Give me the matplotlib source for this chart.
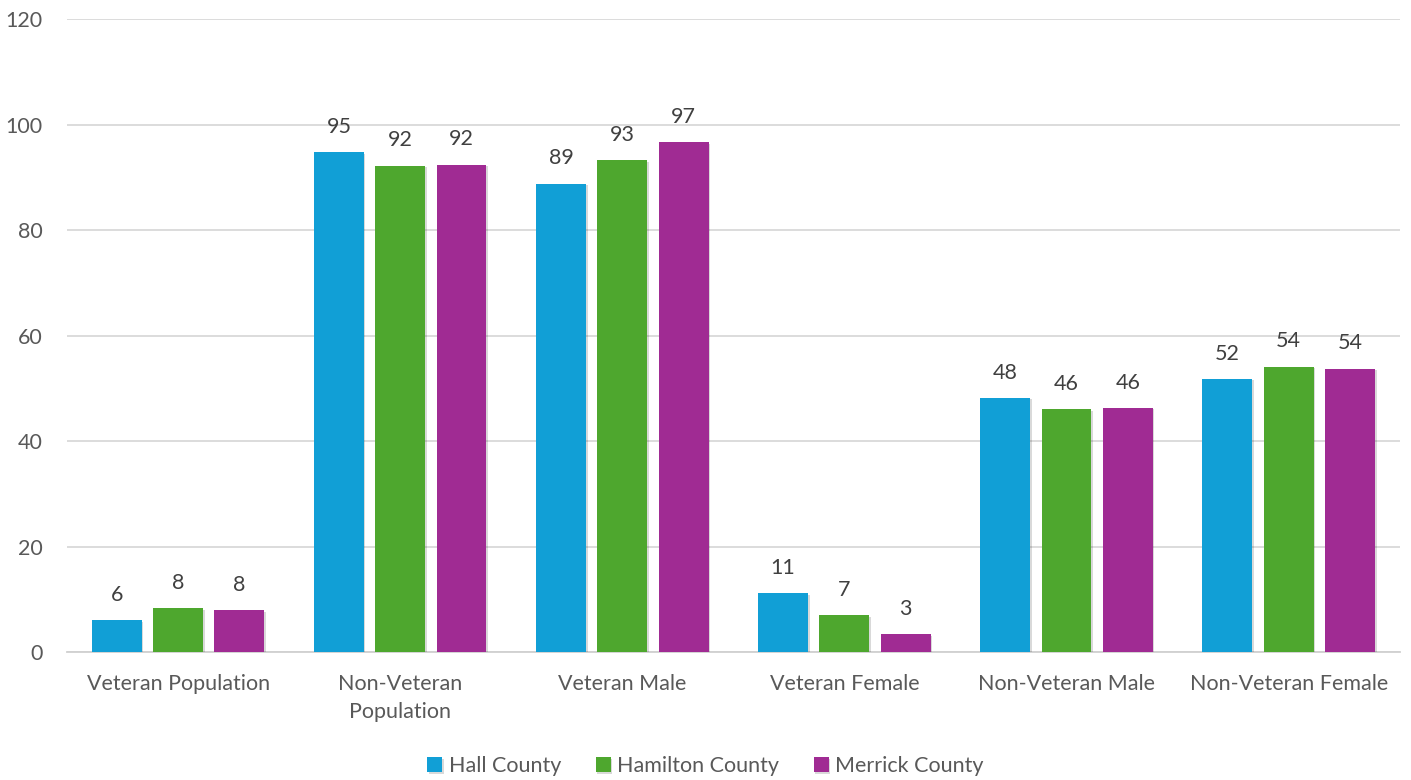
import matplotlib
matplotlib.use("Agg")
import matplotlib.pyplot as plt
import matplotlib.patheffects as pe
import numpy as np

categories = ["Veteran Population", "Non-Veteran\nPopulation", "Veteran Male",
              "Veteran Female", "Non-Veteran Male", "Non-Veteran Female"]
series_names = ["Hall County", "Hamilton County", "Merrick County"]
hall = [6.1, 94.7, 88.8, 11.2, 48.2, 51.8]
hamilton = [8.35, 92.2, 93.2, 7.0, 46.1, 54.1]
merrick = [7.95, 92.4, 96.6, 3.4, 46.3, 53.7]
colors = ["#119FD6", "#4EA72E", "#A02B93"]
yticks = [0, 20, 40, 60, 80, 100, 120]

plt.rcParams['font.family'] = ['Lato', 'DejaVu Sans']
FS = 15.5

fig = plt.figure(figsize=(14.11, 7.8), dpi=100)
ax = fig.add_axes([0.0475, 0.164, 0.9445, 0.8116])

x = np.arange(len(categories))
bw = 0.2245
step = 0.276
shadow = [pe.SimplePatchShadow(offset=(1.2, -1.2), shadow_rgbFace="#000000", alpha=0.15), pe.Normal()]
for i, (name, vals) in enumerate(zip(series_names, [hall, hamilton, merrick])):
    bars = ax.bar(x + (i - 1) * step, vals, width=bw, color=colors[i], label=name, zorder=3)
    for b in bars:
        b.set_path_effects(shadow)
    for xi, v in zip(x + (i - 1) * step, vals):
        ax.text(xi, v + 2.9, f"{v:.0f}", ha="center", va="bottom", fontsize=FS, color="#404040")

ax.set_xlim(-0.5, len(categories) - 0.5)
ax.set_ylim(0, 120)
ax.set_yticks(yticks)
ax.set_yticklabels([str(t) for t in yticks], fontsize=FS, color="#595959")
ax.set_xticks(x)
ax.set_xticklabels(categories, fontsize=FS, color="#595959", linespacing=1.55)
ax.tick_params(axis='x', length=0, pad=15.5)
ax.tick_params(axis='y', length=0, pad=17.5)
ax.grid(axis='y', color="#d9d9d9", linewidth=1.3, zorder=0)
for s in ["top", "right", "left"]:
    ax.spines[s].set_visible(False)
ax.spines["bottom"].set_color("#d0d0d0")
ax.spines["bottom"].set_linewidth(1.3)

leg = fig.legend(loc="lower center", ncol=3, frameon=False, fontsize=FS,
                 bbox_to_anchor=(0.5, -0.02), handlelength=0.7, handleheight=0.7,
                 handletextpad=0.3, columnspacing=1.6, labelcolor="#595959")
fig.savefig("out.png", dpi=100)
